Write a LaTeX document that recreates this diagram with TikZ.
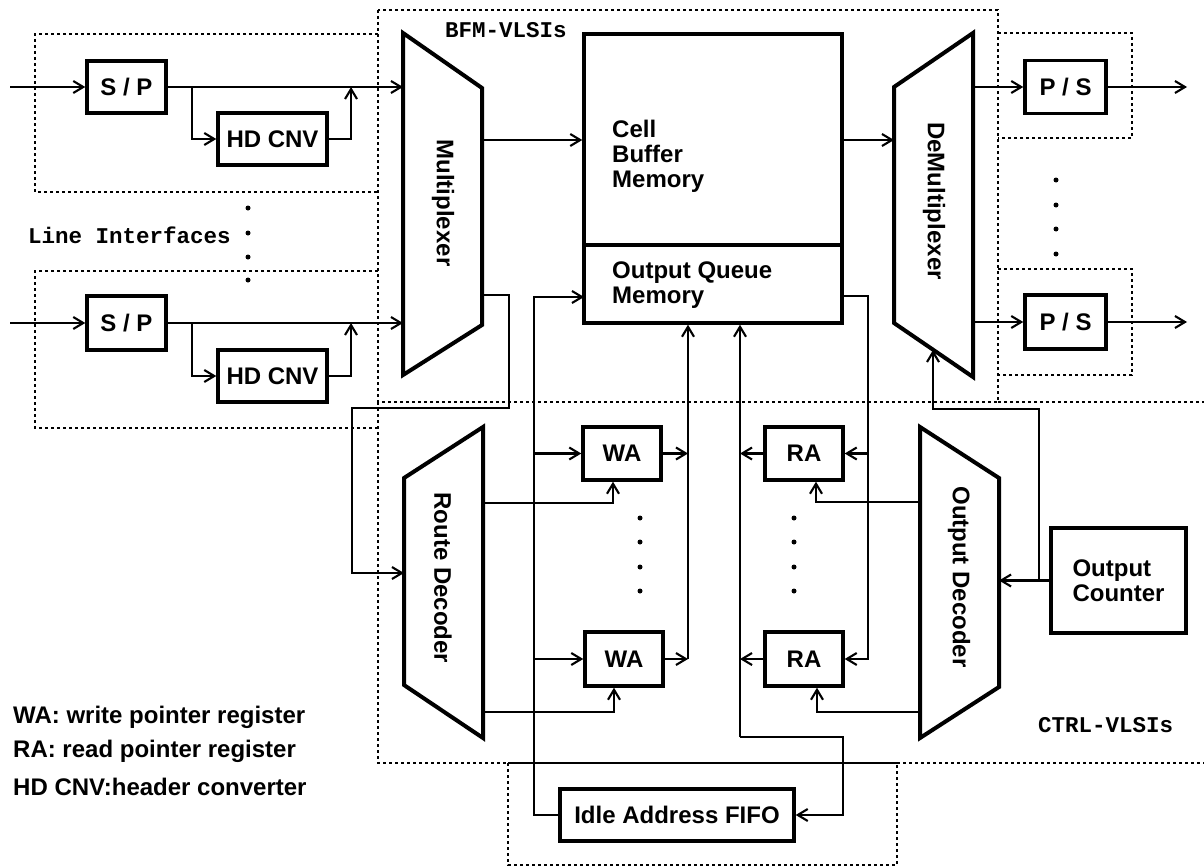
\documentclass[tikz,border=0pt]{standalone}
\usepackage{fontspec}
\setmainfont{Liberation Sans}
\setmonofont{Liberation Mono}
\usetikzlibrary{arrows.meta,calc}
\tikzset{
  blk/.style={draw, line width=3.4pt, font=\fontsize{24}{25}\selectfont\bfseries, inner sep=0pt},
  trap/.style={draw, line width=4pt, line join=miter},
  conn/.style={line width=2.1pt},
  arr/.style={conn, -{Straight Barb[length=10pt,width=12pt]}},
  dotbox/.style={line width=2pt, dash pattern=on 3pt off 3pt},
  lbl/.style={font=\fontsize{24}{25}\selectfont\bfseries, inner sep=0pt},
  mono/.style={font=\fontsize{22.5}{24}\selectfont\ttfamily\bfseries, inner sep=0pt, anchor=west},
}
\begin{document}
\begin{tikzpicture}[x=1pt,y=-1pt]
\useasboundingbox (0,0) rectangle (1204,867);

% ---------- dotted groupings ----------
\draw[dotbox] (378,10) rectangle (998,402);
\draw[dotbox] (378,34) -- (35,34) -- (35,192) -- (378,192);
\draw[dotbox] (378,271) -- (35,271) -- (35,428) -- (378,428);
\draw[dotbox] (998,402) -- (1204,402);
\draw[dotbox] (378,402) -- (378,763) -- (508,763);
\draw[dotbox] (897,763) -- (1204,763);
\draw[dotbox] (508,763) -- (508,865) -- (897,865) -- (897,763);
\draw[conn] (508,763) -- (897,763);
\draw[dotbox] (998,33) -- (1132,33) -- (1132,138) -- (998,138);
\draw[dotbox] (998,269) -- (1132,269) -- (1132,375) -- (998,375);

% ---------- labels ----------
\node[mono] (bfm) at (445,30) {BFM-VLSIs};
\node[mono] (lif) at (28,235) {Line Interfaces};
\node[mono] (ctrl) at (1038,725) {CTRL-VLSIs};
\node[lbl, anchor=west] (leg1) at (13,717) {WA: write pointer register};
\node[lbl, anchor=west] (leg2) at (13,751) {RA: read pointer register};
\node[lbl, anchor=west] (leg3) at (13,787) {HD CNV:header converter};

% ---------- line interfaces ----------
\node[blk, minimum width=79pt, minimum height=52pt] (sp1) at (126.5,87) {S / P};
\node[blk, minimum width=109pt, minimum height=52pt] (hd1) at (272.5,139) {HD CNV};
\node[blk, minimum width=79pt, minimum height=54pt] (sp2) at (126.5,323) {S / P};
\node[blk, minimum width=109pt, minimum height=52pt] (hd2) at (272.5,376) {HD CNV};

% ---------- trapezoids ----------
\draw[trap] (403,33) -- (482,88) -- (482,325) -- (403,375) -- cycle;
\node[lbl, rotate=-90] (mux) at (443,203) {Multiplexer};
\draw[trap] (894,87) -- (973,33) -- (973,377) -- (894,323) -- cycle;
\node[lbl, rotate=-90] (dmux) at (934,201) {DeMultiplexer};
\draw[trap] (404,478) -- (483,427) -- (483,738) -- (404,685) -- cycle;
\node[lbl, rotate=-90] (rd) at (443,578) {Route Decoder};
\draw[trap] (920,427) -- (999,478) -- (999,687) -- (920,738) -- cycle;
\node[lbl, rotate=-90] (od) at (959,577) {Output Decoder};

% ---------- memories ----------
\node[blk, minimum width=258pt, minimum height=211pt] (cbm) at (713,139.5) {};
\node[blk, minimum width=258pt, minimum height=78pt] (oqm) at (713,284) {};
\node[lbl, anchor=west, align=left] (cbmt) at (612,156) {Cell\\Buffer\\Memory};
\node[lbl, anchor=west, align=left] (oqmt) at (612,285) {Output Queue\\Memory};

% ---------- P/S ----------
\node[blk, minimum width=81pt, minimum height=53pt] (ps1) at (1065.5,87) {P / S};
\node[blk, minimum width=81pt, minimum height=54pt] (ps2) at (1065.5,322) {P / S};

% ---------- registers ----------
\node[blk, minimum width=78pt, minimum height=53pt] (wa1) at (622,453.5) {WA};
\node[blk, minimum width=78pt, minimum height=54pt] (wa2) at (624,659) {WA};
\node[blk, minimum width=78pt, minimum height=53pt] (ra1) at (804,453.5) {RA};
\node[blk, minimum width=78pt, minimum height=54pt] (ra2) at (804,659) {RA};
\node[blk, minimum width=234pt, minimum height=52pt] (fifo) at (677,815) {Idle Address FIFO};
\node[blk, minimum width=135pt, minimum height=105pt, align=left] (oc) at (1118.5,580.5) {Output\\Counter};

% ---------- dots ----------
\foreach \y in {208,233,257,280} \fill (248,\y) circle (2.5pt);
\foreach \y in {180,205,229,254} \fill (1056,\y) circle (2.5pt);
\foreach \y in {518,542,567,591} {\fill (640,\y) circle (2.5pt); \fill (794,\y) circle (2.5pt);}

% ---------- coordinates ----------
\coordinate (in1) at (10,87);
\coordinate (in2) at (10,323);
\coordinate (muxin1) at (403,87);
\coordinate (muxin2) at (403,323);
\coordinate (br1) at (192,87);
\coordinate (br2) at (192,323);
\coordinate (j1) at (351,87);
\coordinate (j2) at (351,323);
\coordinate (muxout1) at (482,140);
\coordinate (muxout2) at (482,295);
\coordinate (rdin) at (404,573);
\coordinate (rdo1) at (483,503);
\coordinate (rdo2) at (483,712);
\coordinate (odo1) at (920,502);
\coordinate (odo2) at (920,712);
\coordinate (odin) at (999,580.5);
\coordinate (ocb) at (1039,580.5);
\coordinate (dmturn) at (933,409);
\coordinate (dmbot) at (933,350);
\coordinate (dmin1) at (894,140);
\coordinate (dmo1) at (973,87);
\coordinate (dmo2) at (973,322);
\coordinate (out1) at (1187,87);
\coordinate (out2) at (1187,322);
\coordinate (oqmA) at (584,297);
\coordinate (oqmR) at (842,296);
\coordinate (cA) at (534,0);
\coordinate (cB) at (688,0);
\coordinate (cC) at (740,0);
\coordinate (cD) at (868,0);
\coordinate (cE) at (843,0);
\coordinate (fturn) at (740,737);

% ---------- connectors: line interfaces ----------
\draw[arr] (in1) -- (sp1.west);
\draw[arr] (sp1.east) -- (muxin1);
\draw[arr] (br1) |- (hd1.west);
\draw[arr] (hd1.east) -| (j1);
\draw[arr] (in2) -- (sp2.west);
\draw[arr] (sp2.east) -- (muxin2);
\draw[arr] (br2) |- (hd2.west);
\draw[arr] (hd2.east) -| (j2);

% ---------- connectors: BFM ----------
\draw[arr] (muxout1) -- (muxout1 -| cbm.west);
\draw[arr] (muxout2) -- (509,295) -- (509,408) -- (352,408) |- (rdin);
\draw[arr] (cbm.east |- dmin1) -- (dmin1);
\draw[arr] (dmo1) -- (ps1.west);
\draw[arr] (dmo2) -- (ps2.west);
\draw[arr] (ps1.east) -- (out1);
\draw[arr] (ps2.east) -- (out2);

% ---------- connectors: control ----------
\draw[arr] (rdo1) -| ([xshift=-9pt]wa1.south);
\draw[arr] (rdo2) -| ([xshift=-10pt]wa2.south);
\draw[arr] (fifo.west) -| (cA |- oqmA) -- (oqmA);
\draw[arr] (cA |- wa1) -- (wa1.west);
\draw[arr] (cA |- wa2) -- (wa2.west);
\draw[arr] (wa1.east) -- (wa1.east -| cB);
\draw[arr] (wa2.east) -- (wa2.east -| cB);
\draw[arr] (cB |- wa2) -- (cB |- oqm.south);
\draw[arr] (ra1.west) -- (ra1.west -| cC);
\draw[arr] (ra2.west) -- (ra2.west -| cC);
\draw[arr] (fturn) -- (cC |- oqm.south);
\draw[arr] (fturn) -| (cE |- fifo) -- (fifo.east);
\draw[arr] (oqmR) -| (cD |- ra2) -- (ra2.east);
\draw[arr] (cD |- ra1) -- (ra1.east);
\draw[arr] (odo1) -| ([xshift=12pt]ra1.south);
\draw[arr] (odo2) -| ([xshift=13pt]ra2.south);
\draw[arr] (oc.west) -- (odin);
\draw[arr] (ocb) |- (dmturn) -- (dmbot);
\end{tikzpicture}
\end{document}
